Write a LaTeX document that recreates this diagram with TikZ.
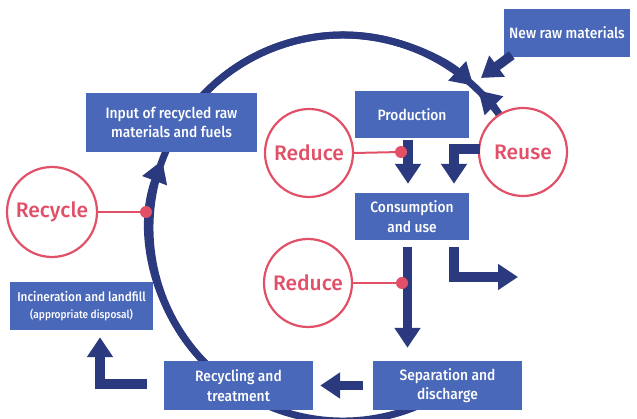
\documentclass[tikz,border=0pt]{standalone}
\usepackage{fontspec}
\setmainfont{Fira Sans}[UprightFont=* Medium, FakeStretch=0.92]
\newfontfamily\redfont{Fira Sans}[UprightFont=* Medium]
\usetikzlibrary{arrows.meta,calc}
\definecolor{boxblue}{RGB}{74,104,185}
\definecolor{navy}{RGB}{43,58,126}
\definecolor{rred}{RGB}{226,80,104}
\begin{document}
\begin{tikzpicture}[x=1pt,y=-1pt,
  box/.style={fill=boxblue, text=white, inner sep=0pt, align=center, font=\fontsize{15}{19.5}\selectfont},
  rcirc/.style={circle, draw=rred, line width=2.2pt, fill=white, text=rred, minimum size=88pt, inner sep=0pt, font=\redfont\fontsize{21}{24}\selectfont},
  bigarc/.style={draw=navy, line width=7pt, -{Triangle[width=25pt,length=22pt]}},
  barrow/.style={draw=navy, line width=9.5pt, -{Triangle[width=25pt,length=20pt]}},
  link/.style={draw=rred, line width=2pt},
  dot/.style={circle, fill=rred, minimum size=12pt, inner sep=0pt}
]
\useasboundingbox (0,0) rectangle (637,419);
\coordinate (C) at (343,228);
% big cycle arcs
\draw[bigarc] ($(C)+(135:193)$) arc[start angle=135, end angle=200.6, radius=193];
\draw[bigarc] ($(C)+(222:193)$) arc[start angle=222, end angle=312.5, radius=193];
\draw[bigarc] ($(C)+(330:193)$) arc[start angle=330, end angle=314.5, radius=193];
\draw[draw=navy, line width=7pt] ($(C)+(345:193)$) arc[start angle=345, end angle=45, radius=193];
% boxes
\node[box, minimum width=171pt, minimum height=59pt] (inp) at (171.5,122.5) {Input of recycled raw\\materials and fuels};
\node[box, minimum width=114pt, minimum height=47pt] (prod) at (412,114.5) {Production};
\node[box, minimum width=126pt, minimum height=48pt] (newraw) at (567,33) {New raw materials};
\node[box, minimum width=114pt, minimum height=47pt] (cons) at (412,216.5) {Consumption\\and use};
\node[box, minimum width=149pt, minimum height=49pt] (sep) at (447.5,385.5) {Separation and\\discharge};
\node[box, minimum width=149pt, minimum height=49pt] (rec) at (238.5,385.5) {Recycling and\\treatment};
\node[box, minimum width=143pt, minimum height=48pt, font=\fontsize{12.8}{17}\selectfont] (inc) at (81.5,306) {Incineration and landfill\\{\fontsize{11}{12}\selectfont(appropriate disposal)}};
% free ends
\coordinate (rawtip) at (481,78);
\coordinate (outtip) at (518,277);
% block arrows
\draw[barrow] ($(newraw.south west)+(8,-2)$) -- (rawtip);
\draw[barrow] ($(prod.south)+(-4,2)$) -- ($(cons.north)+(-4,-9)$);
\draw[barrow] ($(cons.south)+(-4.5,7)$) -- ($(sep.north)+(-40,-13)$);
\draw[barrow] ($(cons.south)+(42,7)$) |- (outtip);
\draw[barrow] ($(sep.west)+(-10,0)$) -- ($(rec.east)+(7,0)$);
\draw[barrow] ($(rec.west)+(-17,-1.5)$) -| ($(inc.south)+(18.5,7)$);
% circles
\node[rcirc] (reduceA) at (309,153) {Reduce};
\node[rcirc] (reuse) at (523,152) {Reuse};
\draw[barrow] ($(reuse.west)+(2,-3)$) -| ($(cons.north)+(42,-9)$);
\node[rcirc, minimum size=90pt] (recycle) at (52,212) {Recycle};
\node[rcirc] (reduceB) at (308,283) {Reduce};
% links
\node[dot] (d1) at (401,152) {};
\node[dot] (d2) at (402,283) {};
\node[dot] (d3) at (146,212) {};
\draw[link] (reduceA.east) -- (d1);
\draw[link] (reduceB.east) -- (d2);
\draw[link] (recycle.east) -- (d3);
\end{tikzpicture}
\end{document}
